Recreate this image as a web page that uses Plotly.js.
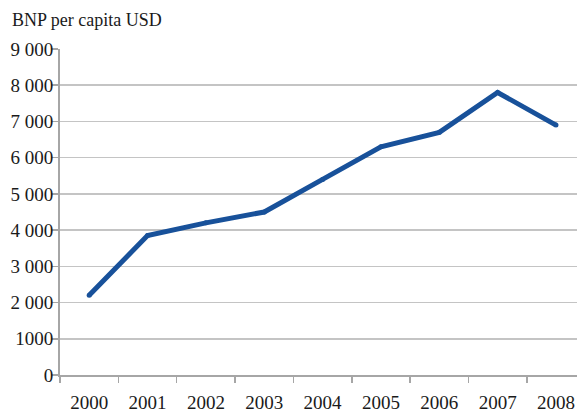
<!DOCTYPE html>
<html>
<head>
<meta charset="utf-8">
<script src="https://cdn.plot.ly/plotly-3.0.1.min.js"></script>
<style>html,body{margin:0;padding:0;background:#fff}#chart{width:577px;height:414px}</style>
</head>
<body>
<div id="chart"></div>
<script>
const years = ['2000','2001','2002','2003','2004','2005','2006','2007','2008'];
const gdpPerCapita = [2200, 3850, 4200, 4500, 5400, 6300, 6700, 7800, 6900];
const yTickVals = [0, 1000, 2000, 3000, 4000, 5000, 6000, 7000, 8000, 9000];
const yTickText = ['0', '1000', '2 000', '3 000', '4 000', '5 000', '6 000', '7 000', '8 000', '9 000'];
const titleText = 'BNP per capita USD';

const FONT = '"Liberation Serif", "Times New Roman", Times, "DejaVu Serif", serif';
const trace = {
  x: years, y: gdpPerCapita, type: 'scatter', mode: 'lines+markers',
  line: {color: '#18519A', width: 5},
  marker: {color: '#18519A', size: 5},
  hoverinfo: 'skip', showlegend: false
};
const layout = {
  width: 577, height: 414,
  margin: {l: 60, r: 0, t: 49, b: 39},
  paper_bgcolor: '#fff', plot_bgcolor: '#fff',
  font: {family: FONT, size: 19, color: '#1a1a1a'},
  title: {text: titleText, font: {family: FONT, size: 18, color: '#1a1a1a'},
          x: 12/577, xanchor: 'left', xref: 'container', yref: 'container', y: 1 - 20/414, yanchor: 'middle'},
  xaxis: {
    type: 'category', range: [-0.5, 8.36], tickson: 'boundaries',
    ticks: 'outside', ticklen: 6, tickcolor: '#A6A6A6', tickwidth: 1.5,
    showline: true, linecolor: '#A6A6A6', linewidth: 2,
    showgrid: false, zeroline: false, ticklabelstandoff: 9,
    tickfont: {family: FONT, size: 19, color: '#1a1a1a'}
  },
  yaxis: {
    range: [0, 9000], tickvals: yTickVals, ticktext: yTickText,
    ticks: 'outside', ticklen: 7, tickcolor: '#A6A6A6', tickwidth: 1.5,
    showline: true, linecolor: '#A6A6A6', linewidth: 2,
    showgrid: true, gridcolor: '#C4C4C4', gridwidth: 1.5, zeroline: false,
    ticklabelstandoff: -6,
    tickfont: {family: FONT, size: 19, color: '#1a1a1a'}
  }
};
Plotly.newPlot('chart', [trace], layout, {staticPlot: true, displayModeBar: false});
</script>
</body>
</html>
